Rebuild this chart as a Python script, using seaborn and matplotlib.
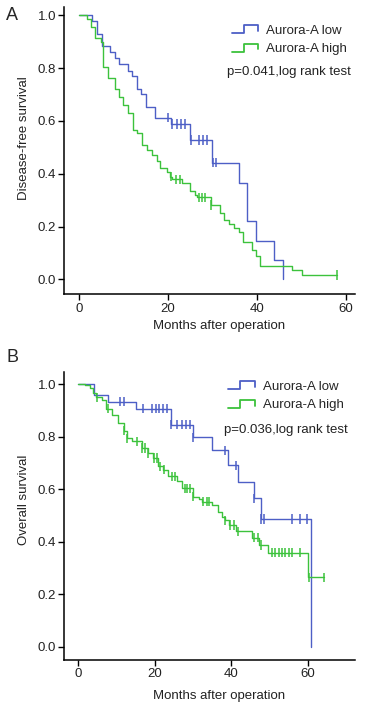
import numpy as np
import pandas as pd
import matplotlib
matplotlib.use("Agg")
import matplotlib.pyplot as plt
from matplotlib.lines import Line2D
from matplotlib.legend_handler import HandlerBase
import seaborn as sns

# ---------------- data ----------------
groups = ["Aurora-A low", "Aurora-A high"]
xticks_A = [0, 20, 40, 60]
xticks_B = [0, 20, 40, 60]
yticks = [0.0, 0.2, 0.4, 0.6, 0.8, 1.0]

# Panel A: disease-free survival
A_low_t = [0, 3.0, 4.1, 5.1, 7.0, 8.0, 9.0, 11.0, 12.0, 13.1, 14.0, 15.0, 17.0,
           20.6, 25.0, 29.9, 35.9, 37.9, 39.9, 43.8, 45.9]
A_low_s = [1.0, 0.978, 0.928, 0.884, 0.862, 0.837, 0.815, 0.790, 0.770, 0.723,
           0.702, 0.654, 0.612, 0.588, 0.528, 0.442, 0.365, 0.22, 0.146, 0.073, 0.0]
A_low_c = [20.1, 21.0, 22.1, 23.0, 23.8, 25.1, 26.9, 27.8, 28.8, 30.1, 30.8]

A_high_t = [0, 1.9, 2.7, 3.5, 5.0, 5.4, 6.5, 8.1, 8.9, 10.0, 11.0, 12.1, 13.0,
            14.1, 15.2, 16.4, 17.5, 18.2, 19.7, 20.5, 21.0, 23.1, 24.9, 26.0,
            26.5, 29.7, 31.8, 32.7, 33.8, 34.8, 35.9, 36.8, 38.9, 39.8, 40.8,
            47.9, 50.2]
A_high_s = [1.0, 0.987, 0.957, 0.913, 0.90, 0.805, 0.761, 0.723, 0.692, 0.66,
            0.629, 0.566, 0.553, 0.509, 0.49, 0.47, 0.448, 0.42, 0.408, 0.389,
            0.379, 0.364, 0.336, 0.319, 0.31, 0.281, 0.25, 0.225, 0.21, 0.193,
            0.178, 0.142, 0.111, 0.089, 0.052, 0.035, 0.016]
A_high_c = [20.7, 21.8, 22.7, 26.9, 27.6, 28.4, 29.8, 58.0]

# Panel B: overall survival
B_low_t = [0, 4.3, 8.0, 15.2, 24.2, 29.9, 34.9, 39.0, 41.8, 45.9, 47.7, 60.8]
B_low_s = [1.0, 0.957, 0.933, 0.906, 0.845, 0.797, 0.748, 0.69, 0.627, 0.565,
           0.486, 0.0]
B_low_c = [11.0, 12.0, 17.1, 19.3, 20.3, 21.2, 22.3, 23.2, 24.3, 25.8, 27.1,
           28.1, 29.1, 30.0, 38.4, 41.1, 46.0, 47.8, 48.6, 55.8, 57.9, 59.8]

B_high_t = [0, 1.9, 3.2, 4.1, 4.7, 6.2, 7.3, 8.9, 10.5, 12.1, 12.7, 14.0, 16.7,
            18.2, 19.7, 21.0, 22.3, 23.6, 25.8, 27.1, 30.0, 31.7, 32.3, 34.9,
            36.6, 37.5, 38.3, 39.3, 41.3, 45.3, 47.3, 49.6, 60.0]
B_high_s = [1.0, 0.995, 0.985, 0.966, 0.949, 0.94, 0.906, 0.883, 0.852, 0.822,
            0.794, 0.782, 0.756, 0.737, 0.718, 0.687, 0.674, 0.649, 0.63, 0.603,
            0.571, 0.562, 0.552, 0.539, 0.514, 0.495, 0.482, 0.463, 0.44, 0.415,
            0.387, 0.358, 0.265]
B_high_c = [4.9, 7.9, 12.1, 12.8, 15.4, 16.8, 17.5, 18.3, 19.9, 20.6, 21.4,
            22.4, 24.5, 25.3, 28.0, 28.5, 29.2, 30.1, 32.7, 33.6, 34.3, 38.4,
            39.6, 40.8, 41.8, 45.9, 47.0, 47.6, 50.5, 51.4, 52.3, 53.2, 54.0,
            54.9, 55.7, 57.9, 60.1, 64.0]

p_text_A = "p=0.041,log rank test"
p_text_B = "p=0.036,log rank test"

# ---------------- style ----------------
sns.set_style("ticks")
plt.rcParams["font.family"] = ["Liberation Sans", "DejaVu Sans"]
COLORS = {"Aurora-A low": "#4d5fc6", "Aurora-A high": "#3cc23c"}


def build(tl, sl, cl, th, sh, ch):
    lines, cens = [], []
    for g, t, s, c in [(groups[0], tl, sl, cl), (groups[1], th, sh, ch)]:
        t = np.asarray(t, float)
        s = np.asarray(s, float)
        end = max(t.max(), max(c))
        tt = np.append(t, end)
        ss = np.append(s, s[-1])
        lines.append(pd.DataFrame({"time": tt, "surv": ss, "group": g}))
        c = np.asarray(c, float)
        idx = np.searchsorted(t, c, side="right") - 1
        cens.append(pd.DataFrame({"time": c, "surv": s[idx], "group": g}))
    return pd.concat(lines, ignore_index=True), pd.concat(cens, ignore_index=True)


class StepHandler(HandlerBase):
    def create_artists(self, legend, orig_handle, xdescent, ydescent, width,
                       height, fontsize, trans):
        lo = -ydescent + height * 0.05
        hi = -ydescent + height * 0.95
        xs = [-xdescent, -xdescent + 0.45 * width, -xdescent + 0.45 * width,
              -xdescent + width, -xdescent + width]
        ys = [lo, lo, hi, hi, lo + 0.25 * height]
        ln = Line2D(xs, ys, color=orig_handle.get_color(), lw=1.3,
                    transform=trans)
        return [ln]


fig = plt.figure(figsize=(3.66, 7.07), dpi=100)
axA = fig.add_axes([0.1757, 0.5837, 0.970 - 0.1757, 0.9905 - 0.5837])
axB = fig.add_axes([0.1757, 0.0665, 0.970 - 0.1757, 0.4743 - 0.0665])

panels = [
    (axA, build(A_low_t, A_low_s, A_low_c, A_high_t, A_high_s, A_high_c),
     (-3.3, 62.1), (-0.057, 1.033), xticks_A, "Disease-free survival", p_text_A,
     (0.576, 0.937), (0.559, 0.774), 0.542, -0.089),
    (axB, build(B_low_t, B_low_s, B_low_c, B_high_t, B_high_s, B_high_c),
     (-3.5, 72.2), (-0.05, 1.047), xticks_B, "Overall survival", p_text_B,
     (0.564, 0.968), (0.549, 0.798), 0.555, -0.103),
]

for (ax, (ldf, cdf), xl, yl, xt, ylab, ptxt, legpos, ppos,
     ylab_y, xlab_y) in panels:
    sns.lineplot(data=ldf, x="time", y="surv", hue="group", palette=COLORS,
                 estimator=None, sort=False, drawstyle="steps-post", lw=1.0,
                 legend=False, ax=ax)
    sns.scatterplot(data=cdf, x="time", y="surv", hue="group", palette=COLORS,
                    marker="|", s=45, linewidth=1.1, legend=False, ax=ax)
    ax.set_xlim(*xl)
    ax.set_ylim(*yl)
    ax.set_xticks(xt)
    ax.set_yticks(yticks)
    ax.set_xticklabels([str(v) for v in xt])
    ax.set_yticklabels([f"{v:.1f}" for v in yticks])
    ax.tick_params(axis="both", labelsize=9.5, length=4, width=1.0, pad=2,
                   color="black", labelcolor="#222222")
    for sp in ["top", "right"]:
        ax.spines[sp].set_visible(False)
    for sp in ["left", "bottom"]:
        ax.spines[sp].set_linewidth(1.1)
        ax.spines[sp].set_color("black")
    ax.set_xlabel("Months after operation", fontsize=9.5, color="#222222")
    ax.set_ylabel(ylab, fontsize=9.5, color="#222222")
    ax.xaxis.set_label_coords(0.532, xlab_y)
    ax.yaxis.set_label_coords(-0.118, ylab_y)

    handles = [Line2D([], [], color=COLORS[g]) for g in groups]
    ax.legend(handles, groups, loc="upper left", bbox_to_anchor=legpos,
              frameon=False, fontsize=9.5, handlelength=2.0, handleheight=0.6,
              handletextpad=0.6, labelspacing=0.5, borderpad=0,
              borderaxespad=0, handler_map={Line2D: StepHandler()})
    ax.text(ppos[0], ppos[1], ptxt, transform=ax.transAxes, fontsize=9.5,
            va="center", ha="left", color="#222222")

fig.text(12 / 366, 1 - 15 / 707, "A", fontsize=13, ha="center", va="center")
fig.text(12 / 366, 1 - 357 / 707, "B", fontsize=13, ha="center", va="center")

fig.savefig("out.png", dpi=100)
